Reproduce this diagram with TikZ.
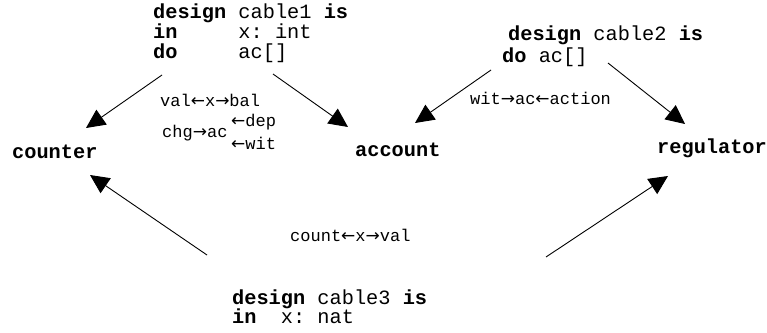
\documentclass[tikz,border=0pt]{standalone}
\usepackage{fontspec}
\setmonofont{Liberation Mono}
\newfontfamily\arrfont{DejaVu Sans}
\usetikzlibrary{arrows.meta}
\newcommand\myl{{\arrfont ←}}
\newcommand\myr{{\arrfont →}}
\tikzset{
  head/.style={font=\ttfamily\fontsize{20.3}{24}\selectfont, anchor=base west, inner sep=0pt},
  lbl/.style={font=\ttfamily\fontsize{17}{20}\selectfont, anchor=base west, inner sep=0pt},
  conn/.style={line width=0.9pt, -{Triangle[length=19pt,width=18pt]}}
}
\begin{document}
\begin{tikzpicture}[x=1pt,y=-1pt]
\useasboundingbox (0,0) rectangle (767,332);
% design blocks
\node[head] (c1a) at (153,18.5) {\textbf{design} cable1 \textbf{is}};
\node[head] (c1b) at (153,38.5) {\textbf{in}\ \ \ \ \ x: int};
\node[head] (c1c) at (153,58.5) {\textbf{do}\ \ \ \ \ ac[]};
\node[head] (c2a) at (508,40) {\textbf{design} cable2 \textbf{is}};
\node[head] (c2b) at (502,62) {\textbf{do} ac[]};
\node[head] (c3a) at (232,304) {\textbf{design} cable3 \textbf{is}};
\node[head] (c3b) at (232,323.5) {\textbf{in}\ \ x: nat};
% components
\node[head] (counter) at (12,158) {\textbf{counter}};
\node[head] (account) at (355,156) {\textbf{account}};
\node[head] (regulator) at (657,153) {\textbf{regulator}};
% labels
\node[lbl] (l1) at (160,106.5) {val\myl x\myr bal};
\node[lbl] (l2) at (231,126.5) {\myl dep};
\node[lbl] (l3) at (162,137.5) {chg\myr ac};
\node[lbl] (l4) at (231,149) {\myl wit};
\node[lbl] (l5) at (470,104) {wit\myr ac\myl action};
\node[lbl] (l6) at (290,241) {count\myl x\myr val};
% connector ends
\coordinate (s1) at (162,75);
\coordinate (t1) at (86,128);
\coordinate (s2) at (273,74);
\coordinate (t2) at (348,127);
\coordinate (s3) at (491,70);
\coordinate (t3) at (415,123);
\coordinate (s4) at (608,63);
\coordinate (t4) at (685,124);
\coordinate (s5) at (207,255);
\coordinate (t5) at (90,175);
\coordinate (s6) at (546,257);
\coordinate (t6) at (668,176);
\draw[conn] (s1) -- (t1);
\draw[conn] (s2) -- (t2);
\draw[conn] (s3) -- (t3);
\draw[conn] (s4) -- (t4);
\draw[conn] (s5) -- (t5);
\draw[conn] (s6) -- (t6);
\end{tikzpicture}
\end{document}
